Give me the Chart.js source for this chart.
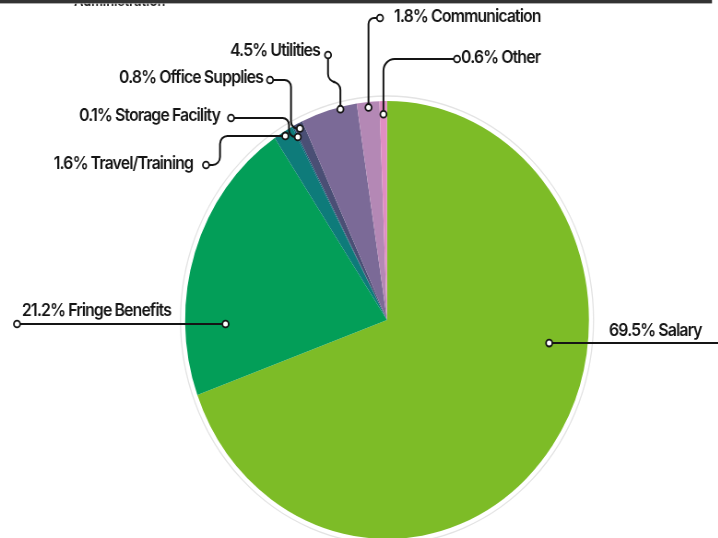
<!DOCTYPE html>
<html>
<head>
<meta charset="utf-8">
<script src="https://cdn.jsdelivr.net/npm/chart.js@4"></script>
<style>
  html, body { margin: 0; padding: 0; background: #fff; overflow: hidden; width: 718px; height: 538px; }
  #wrap { position: absolute; left: 0; top: 0; width: 779px; height: 560px; transform: scaleX(0.922); transform-origin: 0 0; }
  canvas { display: block; }
</style>
</head>
<body>
<div id="wrap"><canvas id="c" width="779" height="560" style="width:779px;height:560px"></canvas></div>
<script>
// ---- data ----
const categories = ['Salary', 'Fringe Benefits', 'Travel/Training', 'Storage Facility', 'Office Supplies', 'Utilities', 'Communication', 'Other'];
const values = [69.5, 21.2, 1.6, 0.1, 0.8, 4.5, 1.8, 0.6];
const colors = ['#7dbc27', '#039e58', '#0e7b7a', '#0c5a74', '#4a4f75', '#7b6a97', '#b488b5', '#e08ec2'];
const clippedTitle = 'Administration';

// ---- layout (reference image coordinates; x gets unstretched) ----
const SX = 0.922;
const X = v => v / SX;
const CW = 779;
// anchor: fraction along slice angle, fraction of radius
const anchors = [[0.39, 0.81], [0.246, 0.80], [0.5, 0.98], [0.5, 0.945], [0.5, 0.975], [0.7, 0.99], [0.5, 0.975], [0.5, 0.94]];
// label layouts: text anchor x, text center y, align, route builder
const labelLayout = [
  { tx: 609, ty: 331, align: 'left', route: a => [[a.x, a.y], [CW + 10, a.y]], endDot: false, r: 0 },
  { tx: 22, ty: 311, align: 'left', route: a => [[a.x, a.y], [X(17), a.y]], endDot: true, r: 0 },
  { tx: 193, ty: 164, align: 'right', route: a => [[a.x, a.y], [X(220), a.y], [X(220), 165], [X(206), 165]], endDot: true, r: 8 },
  { tx: 220, ty: 116, align: 'right', route: a => [[a.x, a.y], [X(289), a.y], [X(289), 118], [X(231), 118]], endDot: true, r: 7 },
  { tx: 263, ty: 78, align: 'right', route: a => [[a.x, a.y], [X(291), a.y], [X(291), 80], [X(270), 80]], endDot: true, r: 7 },
  { tx: 320, ty: 51, align: 'right', route: a => [[a.x, a.y], [a.x, 82], [X(328), 82], [X(328), 55]], endDot: true, r: 8 },
  { tx: 394, ty: 17, align: 'left', route: a => [[a.x, a.y], [a.x, 18], [X(380), 18]], endDot: true, r: 6 },
  { tx: 461, ty: 58, align: 'left', route: a => [[a.x, a.y], [a.x, 59], [X(457), 59]], endDot: true, r: 12 }
];
const FONT = '600 17.2px Inter, "Open Sans", sans-serif';

function drawRoute(ctx, pts, r) {
  ctx.beginPath();
  ctx.moveTo(pts[0][0], pts[0][1]);
  for (let i = 1; i < pts.length - 1; i++) {
    ctx.arcTo(pts[i][0], pts[i][1], pts[i + 1][0], pts[i + 1][1], r);
  }
  ctx.lineTo(pts[pts.length - 1][0], pts[pts.length - 1][1]);
  ctx.stroke();
}
function dot(ctx, x, y) {
  ctx.beginPath();
  ctx.arc(x, y, 3.4, 0, Math.PI * 2);
  ctx.fillStyle = '#fff';
  ctx.fill();
  ctx.lineWidth = 1.8;
  ctx.stroke();
}

const ringPlugin = {
  id: 'ring',
  beforeDatasetsDraw(chart) {
    const arc = chart.getDatasetMeta(0).data[0];
    const ctx = chart.ctx;
    ctx.save();
    ctx.beginPath();
    ctx.arc(arc.x, arc.y, arc.outerRadius + 5, 0, Math.PI * 2);
    ctx.strokeStyle = '#e3e3e3';
    ctx.lineWidth = 1.3;
    ctx.stroke();
    ctx.restore();
  }
};

const labelPlugin = {
  id: 'leaderLabels',
  afterDraw(chart) {
    const ctx = chart.ctx;
    const meta = chart.getDatasetMeta(0);
    ctx.save();
    ctx.strokeStyle = '#151515';
    ctx.fillStyle = '#151515';
    meta.data.forEach((arc, i) => {
      const L = labelLayout[i];
      const [fa, fr] = anchors[i];
      const ang = arc.startAngle + (arc.endAngle - arc.startAngle) * fa;
      const rr = arc.outerRadius * fr;
      const a = { x: arc.x + Math.cos(ang) * rr, y: arc.y + Math.sin(ang) * rr };
      const pts = L.route(a);
      ctx.lineWidth = 2;
      ctx.strokeStyle = '#151515';
      drawRoute(ctx, pts, L.r);
      dot(ctx, a.x, a.y);
      if (L.endDot) { const e = pts[pts.length - 1]; dot(ctx, e[0], e[1]); }
      ctx.fillStyle = '#151515';
      ctx.font = FONT;
      ctx.letterSpacing = '-0.95px';
      ctx.textAlign = L.align;
      ctx.textBaseline = 'middle';
      ctx.fillText(values[i].toFixed(1) + '% ' + categories[i], X(L.tx), L.ty);
    });
    // clipped heading and top rule
    ctx.letterSpacing = '0px';
    ctx.font = '600 14px Inter, sans-serif';
    ctx.textAlign = 'left';
    ctx.textBaseline = 'alphabetic';
    ctx.fillStyle = '#222';
    ctx.fillText(clippedTitle, X(74), 5.5);
    ctx.fillStyle = '#333';
    ctx.fillRect(0, 0, X(712), 3);
    ctx.fillStyle = '#999';
    ctx.fillRect(0, 3, X(712), 0.8);
    ctx.restore();
  }
};

new Chart(document.getElementById('c'), {
  type: 'pie',
  data: {
    labels: categories,
    datasets: [{ data: values, backgroundColor: colors, borderWidth: 0 }]
  },
  options: {
    responsive: false,
    animation: false,
    devicePixelRatio: 1,
    layout: { padding: { left: X(387) - 219, right: CW - (X(387) + 219), top: 101, bottom: 560 - 539 } },
    plugins: { legend: { display: false }, tooltip: { enabled: false } }
  },
  plugins: [ringPlugin, labelPlugin]
});
</script>
</body>
</html>
